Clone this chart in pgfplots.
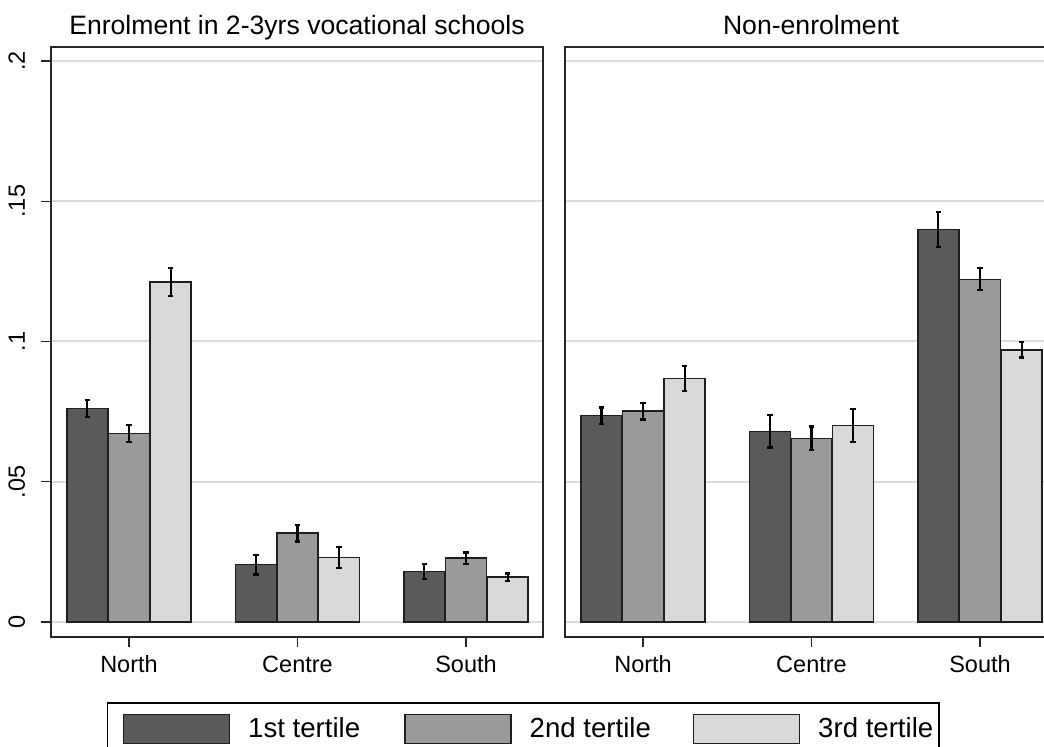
\documentclass[border=0pt]{standalone}
\usepackage{pgfplots}
\usepackage{pgfplotstable}
\pgfplotsset{compat=1.18}
\usepackage{fontspec}
\setmainfont{Liberation Sans}

\definecolor{tone1}{HTML}{5A5A5A}
\definecolor{tone2}{HTML}{9A9A9A}
\definecolor{tone3}{HTML}{D9D9D9}
\definecolor{gridc}{HTML}{DCDCDC}
\definecolor{edge}{HTML}{1E1E1E}

% cat: 1 North, 2 Centre, 3 South; t = share, e = half CI
\pgfplotstableread{
cat t1     e1     t2     e2     t3     e3
1   0.0762 0.0030 0.0673 0.0030 0.1212 0.0051
2   0.0204 0.0035 0.0317 0.0030 0.0229 0.0037
3   0.0179 0.0027 0.0228 0.0020 0.0160 0.0013
}\enrol

\pgfplotstableread{
cat t1     e1     t2     e2     t3     e3
1   0.0736 0.0029 0.0752 0.0030 0.0868 0.0044
2   0.0680 0.0058 0.0655 0.0042 0.0700 0.0058
3   0.1400 0.0062 0.1222 0.0039 0.0970 0.0027
}\nonenrol

\pgfplotsset{
  panel/.style={
    scale only axis, width=246pt, height=295pt,
    xmin=0.537, xmax=3.457, ymin=-0.00535, ymax=0.205,
    ybar, bar width=0.244, bar shift=0pt,
    xtick={1,2,3}, xticklabels={North,Centre,South},
    ytick={0,0.05,0.1,0.15,0.2},
    xtick pos=bottom, ytick pos=left,
    ymajorgrids, grid style={gridc, line width=1pt},
    tick align=outside, major tick length=5pt,
    tick style={black!85, line width=0.75pt},
    axis line style={black!85, line width=0.8pt},
    tick label style={font=\fontsize{11.75}{14}\selectfont},
    xticklabel style={anchor=base, yshift=-13pt},
    title style={at={(0.5,1)}, anchor=base, yshift=0pt,
      font=\fontsize{13.3}{16}\selectfont},
    legend image code/.code={
      \draw[#1, line width=0.75pt] (0pt,-7.25pt) rectangle (53pt,7.25pt);},
    every axis plot/.append style={draw=edge, line width=0.7pt},
    error bars/y dir=both, error bars/y explicit,
    error bars/error mark=-,
    error bars/error bar style={black, line width=1.1pt},
    error bars/error mark options={rotate=90, black, line width=1.1pt, mark size=1.4pt},
  },
}

\begin{document}
\begin{tikzpicture}
\useasboundingbox (0,0) rectangle (522pt,373.5pt);
\clip (0,0) rectangle (522pt,373.5pt);

\begin{axis}[panel, at={(25.5pt,55pt)}, anchor=south west,
  title={Enrolment in 2-3yrs vocational schools},
  yticklabels={0,.05,.1,.15,.2},
  yticklabel style={rotate=90, anchor=base},
  yticklabel shift=8pt,
  legend columns=3, legend cell align=left,
  legend style={at={(0.1138,-0.1102)}, anchor=north west,
    draw=black, line width=0.75pt, inner xsep=7.5pt, inner ysep=5.5pt,
    font=\fontsize{13.8}{16}\selectfont,
    nodes={inner sep=0pt},
    /tikz/every odd column/.append style={column sep=9pt},
    /tikz/every even column/.append style={column sep=0pt}},
]
\addplot[fill=tone1] table[x expr=\thisrow{cat}-0.247, y=t1, y error=e1]{\enrol};
\addplot[fill=tone2] table[x=cat, y=t2, y error=e2]{\enrol};
\addplot[fill=tone3] table[x expr=\thisrow{cat}+0.247, y=t3, y error=e3]{\enrol};
\addlegendentry{\makebox[78pt][l]{1st tertile}}
\addlegendentry{\makebox[81.5pt][l]{2nd tertile}}
\addlegendentry{\makebox[53pt][l]{3rd tertile}}
\end{axis}

\begin{axis}[panel, at={(282.5pt,55pt)}, anchor=south west,
  title={Non-enrolment},
  yticklabels={}, ytick style={draw=none},
]
\addplot[fill=tone1] table[x expr=\thisrow{cat}-0.247, y=t1, y error=e1]{\nonenrol};
\addplot[fill=tone2] table[x=cat, y=t2, y error=e2]{\nonenrol};
\addplot[fill=tone3] table[x expr=\thisrow{cat}+0.247, y=t3, y error=e3]{\nonenrol};
\end{axis}
\end{tikzpicture}
\end{document}
